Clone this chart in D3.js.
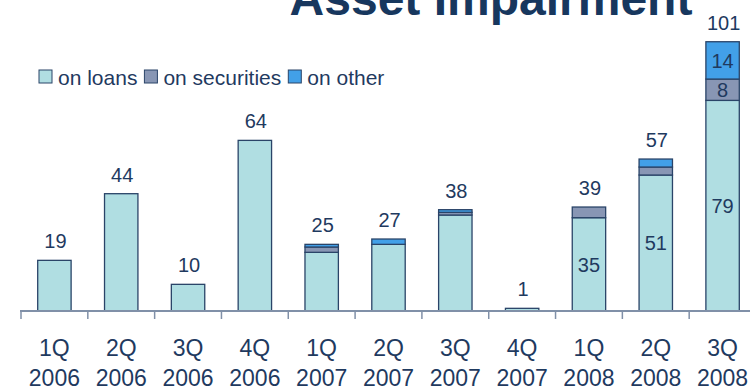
<!DOCTYPE html>
<html>
<head>
<meta charset="utf-8">
<script src="https://cdn.jsdelivr.net/npm/d3@7"></script>
<style>
  html, body { margin: 0; padding: 0; background: #fff; }
  svg { display: block; }
  text { font-family: "Liberation Sans", Arial, sans-serif; }
</style>
</head>
<body>
<svg id="chart" width="750" height="391"></svg>
<script>
// Quarterly asset impairment, split by source
const quarters = ["1Q", "2Q", "3Q", "4Q", "1Q", "2Q", "3Q", "4Q", "1Q", "2Q", "3Q"];
const years    = ["2006", "2006", "2006", "2006", "2007", "2007", "2007", "2007", "2008", "2008", "2008"];
const onLoans      = [19, 44, 10, 64, 22, 25, 36, 1, 35, 51, 79];
const onSecurities = [0, 0, 0, 0, 2, 0, 1, 0, 4, 3, 8];
const onOther      = [0, 0, 0, 0, 1, 2, 1, 0, 0, 3, 14];
const seriesNames  = ["on loans", "on securities", "on other"];
// Segment values are written inside the bars for these years only
const insideLabelYears = ["2008"];

const keys = ["loans", "securities", "other"];
const colors = { loans: "#B0DEE2", securities: "#8896B4", other: "#42A0E8" };
const textColor = "#1F3A5F";
const edgeColor = "#2A4468";
const axisColor = "#8090A8";

const rows = quarters.map((q, i) => ({
  id: i,
  quarter: q,
  year: years[i],
  loans: onLoans[i],
  securities: onSecurities[i],
  other: onOther[i]
}));
rows.forEach(r => { r.total = r.loans + r.securities + r.other; });

const svg = d3.select("#chart");
const baseline = 311;

const x = d3.scaleBand()
  .domain(rows.map(r => r.id))
  .range([21, 756])
  .paddingInner(0.5)
  .paddingOuter(0.25);

const y = d3.scaleLinear()
  .domain([0, 100])
  .range([baseline, baseline - 266.6]);

// Title (runs off the top edge)
svg.append("text")
  .attr("x", 491)
  .attr("y", 15)
  .attr("text-anchor", "middle")
  .attr("font-size", 48)
  .attr("font-weight", "bold")
  .attr("fill", "#17375E")
  .text("Asset Impairment");

// Stacked bars
const stacked = d3.stack().keys(keys)(rows);

const layers = svg.append("g").selectAll("g")
  .data(stacked)
  .join("g")
  .attr("fill", d => colors[d.key]);

layers.selectAll("rect")
  .data(d => d.filter(s => s[1] - s[0] > 0))
  .join("rect")
  .attr("x", s => x(s.data.id))
  .attr("width", x.bandwidth())
  .attr("y", s => y(s[1]))
  .attr("height", s => y(s[0]) - y(s[1]))
  .attr("stroke", edgeColor)
  .attr("stroke-width", 1.3);

// Values inside segments
const inside = [];
stacked.forEach(layer => {
  layer.forEach(s => {
    const v = s[1] - s[0];
    if (v >= 5 && insideLabelYears.includes(s.data.year)) {
      inside.push({ id: s.data.id, v, mid: (s[0] + s[1]) / 2 });
    }
  });
});

svg.append("g").selectAll("text")
  .data(inside)
  .join("text")
  .attr("x", d => x(d.id) + x.bandwidth() / 2)
  .attr("y", d => y(d.mid))
  .attr("dy", "0.36em")
  .attr("text-anchor", "middle")
  .attr("font-size", 20)
  .attr("fill", textColor)
  .text(d => d.v);

// Totals above bars
svg.append("g").selectAll("text")
  .data(rows)
  .join("text")
  .attr("x", d => x(d.id) + x.bandwidth() / 2 + 1)
  .attr("y", d => y(d.total) - 12)
  .attr("text-anchor", "middle")
  .attr("font-size", 20)
  .attr("fill", textColor)
  .text(d => d.total);

// Category axis
const axis = d3.axisBottom(x).tickSize(0).tickFormat(() => "");
const axisG = svg.append("g")
  .attr("transform", `translate(0,${baseline})`)
  .call(axis);
axisG.select(".domain").remove();

axisG.append("line")
  .attr("x1", 20)
  .attr("x2", 750)
  .attr("stroke", axisColor)
  .attr("stroke-width", 2);

axisG.append("g").selectAll("line")
  .data(rows)
  .join("line")
  .attr("x1", d => x(d.id) - x.step() * x.paddingOuter())
  .attr("x2", d => x(d.id) - x.step() * x.paddingOuter())
  .attr("y1", 0)
  .attr("y2", 8)
  .attr("stroke", axisColor)
  .attr("stroke-width", 1.5);

const catLabels = svg.append("g").selectAll("text")
  .data(rows)
  .join("text")
  .attr("text-anchor", "middle")
  .attr("font-size", 23)
  .attr("fill", textColor);

catLabels.append("tspan")
  .attr("x", d => x(d.id) + x.bandwidth() / 2)
  .attr("y", 356)
  .text(d => d.quarter);

catLabels.append("tspan")
  .attr("x", d => x(d.id) + x.bandwidth() / 2)
  .attr("y", 386)
  .text(d => d.year);

// Legend
const legend = svg.append("g").attr("transform", "translate(39,70)");
let lx = 0;
seriesNames.forEach((name, i) => {
  const item = legend.append("g").attr("transform", `translate(${lx},0)`);
  item.append("rect")
    .attr("width", 13)
    .attr("height", 13)
    .attr("fill", colors[keys[i]])
    .attr("stroke", edgeColor)
    .attr("stroke-width", 1);
  const t = item.append("text")
    .attr("x", 19)
    .attr("y", 14.5)
    .attr("font-size", 21)
    .attr("fill", textColor)
    .text(name);
  lx += 19 + t.node().getComputedTextLength() + 7;
});
</script>
</body>
</html>
